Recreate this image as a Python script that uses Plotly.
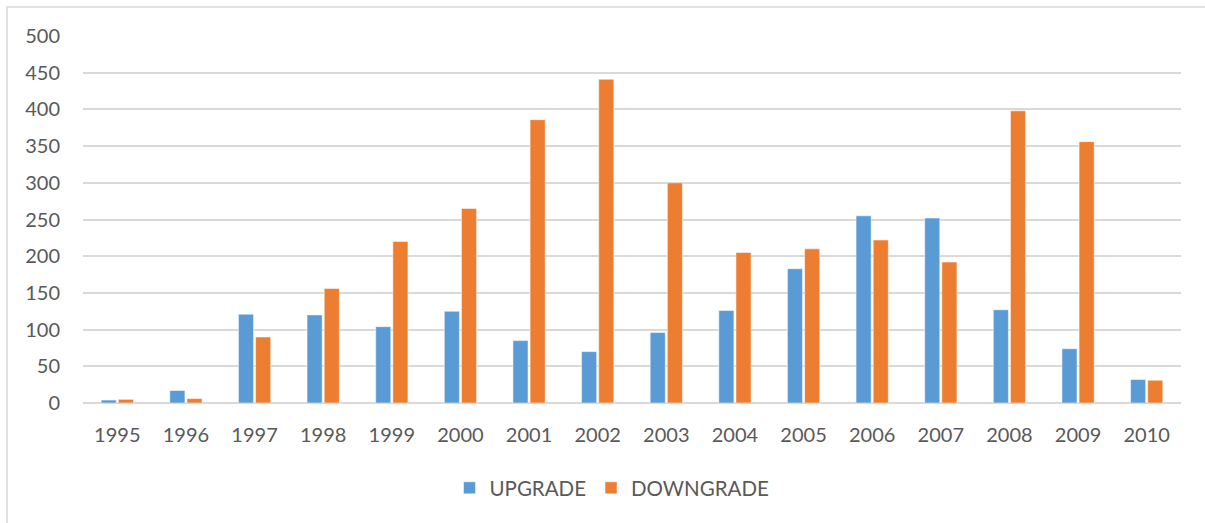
import plotly.graph_objects as go

years = ["1995", "1996", "1997", "1998", "1999", "2000", "2001", "2002",
         "2003", "2004", "2005", "2006", "2007", "2008", "2009", "2010"]
upgrade = [4, 17, 121, 120, 104, 125, 85, 70, 96, 126, 183, 255, 252, 127, 74, 32]
downgrade = [5, 6, 90, 156, 220, 265, 386, 441, 300, 205, 210, 222, 192, 398, 356, 31]

W, H = 1205, 523
L, R, T, B = 83, 24, 36, 120
pw, ph = W - L - R, H - T - B

def px(x):
    return (x - L) / pw

def py(y):
    return (H - B - y) / ph

font_family = "Lato, 'Open Sans', sans-serif"
gray = "#595959"

fig = go.Figure()
fig.add_trace(go.Bar(x=years, y=upgrade, name="UPGRADE",
                     marker=dict(color="#5B9BD5", line=dict(color="white", width=0.5))))
fig.add_trace(go.Bar(x=years, y=downgrade, name="DOWNGRADE",
                     marker=dict(color="#ED7D31", line=dict(color="white", width=0.5))))

fig.update_layout(
    width=W, height=H,
    margin=dict(l=L, r=R, t=T, b=B, autoexpand=False),
    paper_bgcolor="white", plot_bgcolor="white",
    barmode="group", bargap=0.5, bargroupgap=0.12,
    font=dict(family=font_family, size=20, color=gray),
    showlegend=True,
    legend=dict(orientation="h", x=px(612), xanchor="center", y=py(488), yanchor="middle",
                font=dict(size=20.5, color=gray), itemwidth=30, traceorder="normal"),
    xaxis=dict(showgrid=False, showline=False, ticks="", ticklabelstandoff=18,
               tickfont=dict(size=20, color=gray), automargin=False),
    yaxis=dict(range=[0, 500], dtick=50, showgrid=True, gridcolor="#d9d9d9", gridwidth=1.5,
               zeroline=True, zerolinecolor="#d9d9d9", zerolinewidth=1.5,
               showline=False, ticks="", ticklabelstandoff=22,
               tickfont=dict(size=20, color=gray), automargin=False),
    shapes=[dict(type="rect", xref="paper", yref="paper",
                 x0=px(7), x1=px(1215), y0=py(540), y1=py(7),
                 line=dict(color="#d9d9d9", width=1.5), layer="below")],
)

fig.write_html("out.html", config={"displayModeBar": False},
               post_script="document.body.style.margin='0';document.body.style.overflow='hidden';")
